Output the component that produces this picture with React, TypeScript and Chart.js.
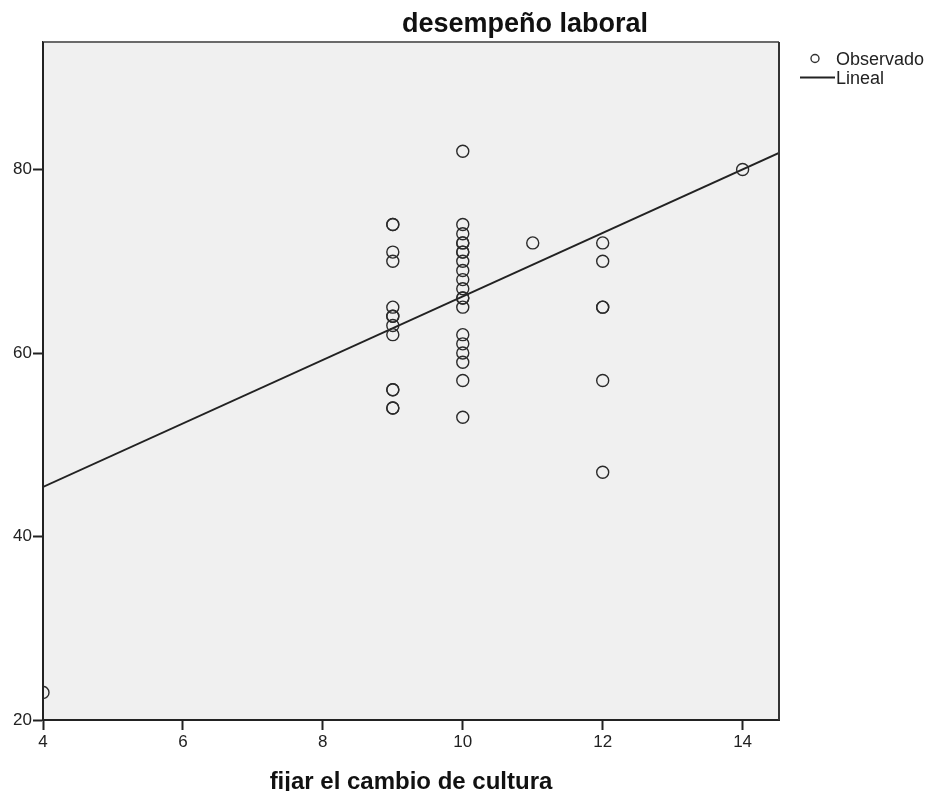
import React, { useEffect, useRef } from "react";
import { Chart, registerables } from "chart.js";

Chart.register(...registerables);

const chartTitle = "desempeño laboral";
const xAxisTitle = "fijar el cambio de cultura";
const legendLabels = ["Observado", "Lineal"];

const xTicks = [4, 6, 8, 10, 12, 14];
const yTicks = [20, 40, 60, 80];

const obsX = [
  4,
  9, 9, 9, 9, 9, 9, 9, 9, 9, 9, 9, 9, 9,
  10, 10, 10, 10, 10, 10, 10, 10, 10, 10, 10, 10, 10, 10, 10, 10, 10, 10, 10, 10,
  11,
  12, 12, 12, 12, 12, 12,
  14,
];
const obsY = [
  23,
  74, 74, 71, 70, 65, 64, 64, 63, 62, 56, 56, 54, 54,
  82, 74, 73, 72, 72, 71, 71, 70, 69, 68, 67, 66, 66, 65, 62, 61, 60, 59, 57, 53,
  72,
  72, 70, 65, 65, 57, 47,
  80,
];

const lineX = [4, 14.52];
const lineY = [45.4, 81.8];

const X_MIN = 4;
const X_MAX = 14.52;
const Y_MIN = 20;
const Y_MAX = 93.9;

export default function App() {
  const ref = useRef<HTMLCanvasElement | null>(null);

  useEffect(() => {
    if (!ref.current) return;
    const decor = {
      id: "decor",
      beforeDraw(chart: any) {
        const { ctx, chartArea: a } = chart;
        ctx.save();
        ctx.fillStyle = "#f0f0f0";
        ctx.fillRect(a.left, a.top, a.right - a.left, a.bottom - a.top);
        ctx.restore();
      },
      beforeDatasetsDraw(chart: any) {
        const { ctx, chartArea: a } = chart;
        ctx.save();
        ctx.beginPath();
        ctx.rect(a.left + 1, a.top, a.right - a.left - 1, a.bottom - a.top - 1);
        ctx.clip();
      },
      afterDatasetsDraw(chart: any) {
        chart.ctx.restore();
      },
      afterDraw(chart: any) {
        const { ctx, chartArea: a } = chart;
        ctx.save();
        ctx.lineWidth = 2;
        ctx.strokeStyle = "#6a6a6a";
        ctx.beginPath();
        ctx.moveTo(a.left, a.top);
        ctx.lineTo(a.right, a.top);
        ctx.stroke();
        ctx.strokeStyle = "#333";
        ctx.beginPath();
        ctx.moveTo(a.right, a.top);
        ctx.lineTo(a.right, a.bottom);
        ctx.stroke();
        ctx.strokeStyle = "#222";
        ctx.beginPath();
        ctx.moveTo(a.left, a.top);
        ctx.lineTo(a.left, a.bottom);
        ctx.stroke();

        // title
        ctx.fillStyle = "#111";
        ctx.textAlign = "center";
        ctx.textBaseline = "alphabetic";
        ctx.font = "bold 27px 'Liberation Sans', Arial, sans-serif";
        ctx.fillText(chartTitle, 525, 32);
        // x axis title
        ctx.font = "bold 24px 'Liberation Sans', Arial, sans-serif";
        ctx.fillText(xAxisTitle, (a.left + a.right) / 2, 789);

        // legend
        ctx.textAlign = "left";
        ctx.font = "18px 'Liberation Sans', Arial, sans-serif";
        ctx.fillStyle = "#222";
        ctx.strokeStyle = "#333";
        ctx.lineWidth = 1.4;
        ctx.beginPath();
        ctx.arc(815, 58.5, 4, 0, Math.PI * 2);
        ctx.stroke();
        ctx.fillText(legendLabels[0], 836, 65);
        ctx.lineWidth = 2;
        ctx.strokeStyle = "#222";
        ctx.beginPath();
        ctx.moveTo(800, 77.5);
        ctx.lineTo(835, 77.5);
        ctx.stroke();
        ctx.fillText(legendLabels[1], 836, 83.5);
        ctx.restore();
      },
    };

    const chart = new Chart(ref.current, {
      type: "scatter",
      data: {
        datasets: [
          {
            label: legendLabels[0],
            data: obsX.map((x, i) => ({ x, y: obsY[i] })),
            pointStyle: "circle",
            pointRadius: 6,
            pointBorderWidth: 1.4,
            pointBorderColor: "#2a2a2a",
            pointBackgroundColor: "rgba(0,0,0,0)",
            showLine: false,
            clip: 0,
          },
          {
            label: legendLabels[1],
            data: lineX.map((x, i) => ({ x, y: lineY[i] })),
            showLine: true,
            borderColor: "#222",
            borderWidth: 2,
            pointRadius: 0,
            clip: 0,
          },
        ],
      },
      options: {
        responsive: false,
        animation: false,
        devicePixelRatio: 1,
        layout: { padding: { top: 42, right: 149, left: 0, bottom: 0 } },
        plugins: {
          legend: { display: false },
          tooltip: { enabled: false },
          title: { display: false },
        },
        scales: {
          x: {
            type: "linear",
            min: X_MIN,
            max: X_MAX,
            afterBuildTicks: (s: any) => {
              s.ticks = xTicks.map((v) => ({ value: v }));
            },
            afterFit: (s: any) => {
              s.height = 71;
            },
            ticks: {
              font: { family: "'Liberation Sans', Arial, sans-serif", size: 17 },
              color: "#222",
              padding: 2,
              maxRotation: 0,
            },
            grid: {
              drawOnChartArea: false,
              drawTicks: true,
              tickLength: 10,
              tickWidth: 2,
              tickColor: "#222",
            },
            border: { display: true, color: "#222", width: 2 },
          },
          y: {
            type: "linear",
            min: Y_MIN,
            max: Y_MAX,
            afterBuildTicks: (s: any) => {
              s.ticks = yTicks.map((v) => ({ value: v }));
            },
            afterFit: (s: any) => {
              s.width = 43;
            },
            ticks: {
              font: { family: "'Liberation Sans', Arial, sans-serif", size: 17 },
              color: "#222",
              padding: 1,
            },
            grid: {
              drawOnChartArea: false,
              drawTicks: true,
              tickLength: 10,
              tickWidth: 2,
              tickColor: "#222",
            },
            border: { display: true, color: "#222", width: 2 },
          },
        },
      },
      plugins: [decor],
    });
    return () => chart.destroy();
  }, []);

  return (
    <div style={{ position: "fixed", left: 0, top: 0, width: 928, height: 791, background: "#fff" }}>
      <canvas ref={ref} width={928} height={791} style={{ display: "block" }} />
    </div>
  );
}
